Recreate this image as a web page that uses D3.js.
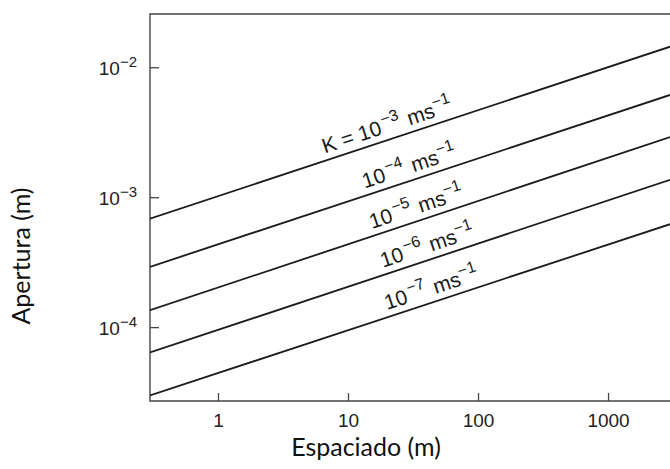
<!DOCTYPE html>
<html>
<head>
<meta charset="utf-8">
<script src="https://cdn.jsdelivr.net/npm/d3@7/dist/d3.min.js"></script>
<style>
  html, body { margin: 0; padding: 0; background: #fff; }
  svg { display: block; }
</style>
</head>
<body>
<div id="chart"></div>
<script>
// ---- data ----
const spacing = [0.3, 3000];                      // x endpoints (m)
const kExponents = [-3, -4, -5, -6, -7];          // K = 10^exp m/s
const apertureLeft  = [6.84e-4, 2.91e-4, 1.35e-4, 6.38e-5, 2.98e-5];  // at spacing 0.3 m
const apertureRight = [1.44e-2, 6.12e-3, 2.90e-3, 1.36e-3, 6.2e-4];   // at spacing 3000 m
const xTicks = [1, 10, 100, 1000];
const xTickLabels = ["1", "10", "100", "1000"];
const yTicks = [1e-2, 1e-3, 1e-4];
const yTickExp = ["−2", "−3", "−4"];
const labelSpacing = [6.9, 14, 15.9, 19.3, 20.7]; // where each line label starts (x, m)

// ---- layout ----
const W = 670, H = 469;
const mLeft = 150, mTop = 14, mRight = 671, mBottom = 401;

const svg = d3.select("#chart").append("svg").attr("width", W).attr("height", H);

const x = d3.scaleLog().domain([0.3, 3050]).range([mLeft, mRight]);
const y = d3.scaleLog().domain([2.7e-5, 0.0257]).range([mBottom, mTop]);

svg.append("defs").append("clipPath").attr("id", "clip")
  .append("rect").attr("x", mLeft).attr("y", mTop).attr("width", mRight - mLeft).attr("height", mBottom - mTop);

const axisColor = "#444";

// frame
svg.append("path")
  .attr("d", `M${mRight + 5},${mTop}H${mLeft}V${mBottom}H${mRight + 5}`)
  .attr("fill", "none").attr("stroke", axisColor).attr("stroke-width", 1.4);

// x axis ticks (inward)
const xAxis = d3.axisBottom(x).tickValues(xTicks).tickSize(-8).tickPadding(13)
  .tickFormat((d, i) => xTickLabels[i]);
const gx = svg.append("g").attr("transform", `translate(0,${mBottom})`).call(xAxis);
gx.select(".domain").remove();
gx.selectAll(".tick line").attr("stroke", axisColor).attr("stroke-width", 1.3);
gx.selectAll(".tick text").attr("font-family", "Liberation Sans, Arial, sans-serif")
  .attr("font-size", 19).attr("fill", "#222");

// y axis ticks (inward)
const yAxis = d3.axisLeft(y).tickValues(yTicks).tickSize(-9).tickPadding(12).tickFormat(() => "");
const gy = svg.append("g").attr("transform", `translate(${mLeft},0)`).call(yAxis);
gy.select(".domain").remove();
gy.selectAll(".tick line").attr("stroke", axisColor).attr("stroke-width", 1.3);
gy.selectAll(".tick text").remove();
gy.selectAll(".tick").each(function(d, i) {
  const t = d3.select(this).append("text")
    .attr("x", -13).attr("y", 7).attr("text-anchor", "end")
    .attr("font-family", "Liberation Sans, Arial, sans-serif").attr("font-size", 19).attr("fill", "#222");
  t.append("tspan").text("10");
  t.append("tspan").attr("dy", -8).attr("font-size", 15).text(yTickExp[i]);
});

// lines
const line = d3.line().x(d => x(d[0])).y(d => y(d[1]));
const gl = svg.append("g").attr("clip-path", "url(#clip)");
kExponents.forEach((k, i) => {
  gl.append("path")
    .datum([[spacing[0], apertureLeft[i]], [spacing[1], apertureRight[i]]])
    .attr("d", line).attr("fill", "none").attr("stroke", "#1a1a1a").attr("stroke-width", 1.8);
});

// line labels
const minus = "−";
kExponents.forEach((k, i) => {
  const x0 = x(spacing[0]), y0 = y(apertureLeft[i]);
  const x1 = x(spacing[1]), y1 = y(apertureRight[i]);
  const angle = Math.atan2(y1 - y0, x1 - x0) * 180 / Math.PI;
  const lx = x(labelSpacing[i]);
  const ly = y0 + (y1 - y0) * (lx - x0) / (x1 - x0);
  const off = 7;
  const rad = angle * Math.PI / 180;
  const px = lx + off * Math.sin(rad), py = ly - off * Math.cos(rad);
  const t = svg.append("text")
    .attr("transform", `translate(${px},${py}) rotate(${angle})`)
    .attr("font-family", "Liberation Sans, Arial, sans-serif").attr("font-size", 21).attr("fill", "#1a1a1a");
  if (i === 0) t.append("tspan").text("K = 10");
  else t.append("tspan").text("10");
  t.append("tspan").attr("dy", -9).attr("dx", 2).attr("font-size", 16).text(minus + String(-k));
  t.append("tspan").attr("dy", 9).attr("dx", 2).text(" ms");
  t.append("tspan").attr("dy", -9).attr("font-size", 16).text(minus + "1");
});

// axis titles
svg.append("text").attr("x", 366).attr("y", 456).attr("text-anchor", "middle")
  .attr("font-family", "Lato, 'Open Sans', sans-serif").attr("font-size", 25).attr("fill", "#111")
  .text("Espaciado (m)");
svg.append("text").attr("transform", "translate(30,256) rotate(-90)").attr("text-anchor", "middle")
  .attr("font-family", "Lato, 'Open Sans', sans-serif").attr("font-size", 25).attr("fill", "#111")
  .text("Apertura (m)");
</script>
</body>
</html>
